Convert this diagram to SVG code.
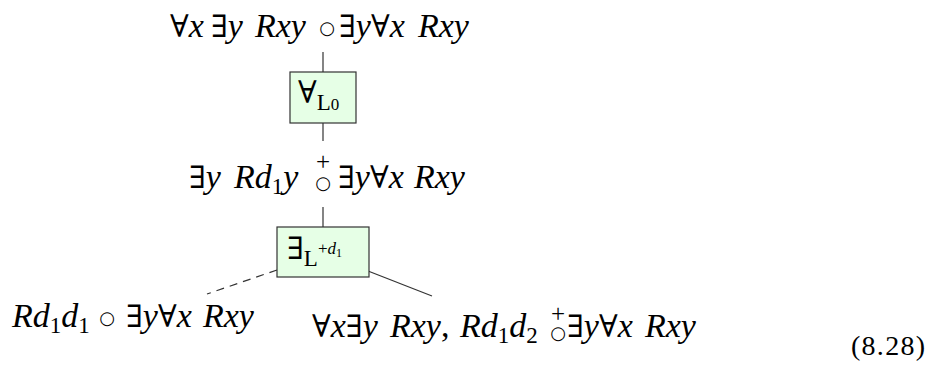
<svg xmlns="http://www.w3.org/2000/svg" width="934" height="366" viewBox="0 0 934 366">
<style>
.t{font-family:"Liberation Serif","DejaVu Serif",serif;font-size:34px;fill:#000}
.i{font-style:italic}
.q{font-size:31px}
.s{font-size:23px;font-style:normal}
.ss{font-size:17px}
.c{font-family:"DejaVu Sans",sans-serif;font-size:18px}
.p{font-family:"Liberation Serif",serif;font-size:25px}
.box{fill:#e6ffe6;stroke:#333;stroke-width:1.2}
.ln{stroke:#333;stroke-width:1.2;fill:none}
.dash{stroke-dasharray:8 6}
</style>
<g id="connectors">
<line class="ln" x1="323" y1="52" x2="323" y2="72"/>
<line class="ln" x1="323" y1="123" x2="323" y2="141"/>
<line class="ln" x1="323" y1="207" x2="323" y2="227"/>
<line class="ln dash" x1="277" y1="270" x2="207" y2="294"/>
<line class="ln" x1="368" y1="271" x2="432" y2="296"/>
</g>
<g id="n0">
<text class="t" y="37"><tspan x="170"><tspan class="q">∀</tspan><tspan class="i">x</tspan></tspan><tspan x="211"><tspan class="q">∃</tspan><tspan class="i">y</tspan></tspan><tspan class="i" x="255">Rxy</tspan></text>
<text class="c" x="327" y="34" text-anchor="middle">○</text>
<text class="t" y="37"><tspan x="339"><tspan class="q">∃</tspan><tspan class="i">y</tspan><tspan class="q">∀</tspan><tspan class="i">x</tspan></tspan><tspan class="i" x="418">Rxy</tspan></text>
</g>
<g id="n1">
<rect class="box" x="290" y="72" width="66" height="51"/>
<text class="t" x="298" y="103"><tspan class="q">∀</tspan><tspan class="s" dy="7">L</tspan><tspan class="ss" dy="0">0</tspan></text>
</g>
<g id="n2">
<text class="t" y="188"><tspan x="189"><tspan class="q">∃</tspan><tspan class="i">y</tspan></tspan><tspan class="i" x="234">Rd</tspan><tspan class="s" dy="6">1</tspan><tspan class="i" dy="-6">y</tspan></text>
<text text-anchor="middle"><tspan class="p" x="323" y="170">+</tspan><tspan class="c" x="323" y="189">○</tspan></text>
<text class="t" y="188"><tspan x="338"><tspan class="q">∃</tspan><tspan class="i">y</tspan><tspan class="q">∀</tspan><tspan class="i">x</tspan></tspan><tspan class="i" x="414">Rxy</tspan></text>
</g>
<g id="n3">
<rect class="box" x="277" y="227" width="92" height="50"/>
<text class="t" x="287" y="259"><tspan class="q">∃</tspan><tspan class="s" dy="7">L</tspan><tspan class="ss" dy="-12">+</tspan><tspan class="ss i">d</tspan><tspan style="font-size:12px" dy="3">1</tspan></text>
</g>
<g id="n4">
<text class="t" y="327"><tspan class="i" x="12">Rd</tspan><tspan class="s" dy="6">1</tspan><tspan class="i" dy="-6">d</tspan><tspan class="s" dy="6">1</tspan></text>
<text class="c" x="107" y="324" text-anchor="middle">○</text>
<text class="t" y="327"><tspan x="126"><tspan class="q">∃</tspan><tspan class="i">y</tspan><tspan class="q">∀</tspan><tspan class="i">x</tspan></tspan><tspan class="i" x="203">Rxy</tspan></text>
</g>
<g id="n5">
<text class="t" y="337"><tspan x="312"><tspan class="q">∀</tspan><tspan class="i">x</tspan><tspan class="q">∃</tspan><tspan class="i">y</tspan></tspan><tspan class="i" x="390">Rxy</tspan>,<tspan class="i" x="460">Rd</tspan><tspan class="s" dy="6">1</tspan><tspan class="i" dy="-6">d</tspan><tspan class="s" dy="6">2</tspan></text>
<text text-anchor="middle"><tspan class="p" x="558" y="322">+</tspan><tspan class="c" x="558" y="339">○</tspan></text>
<text class="t" y="337"><tspan x="567"><tspan class="q">∃</tspan><tspan class="i">y</tspan><tspan class="q">∀</tspan><tspan class="i">x</tspan></tspan><tspan class="i" x="645">Rxy</tspan></text>
</g>
<text class="t" x="851" y="355" style="font-size:28px" textLength="74" lengthAdjust="spacing">(8.28)</text>
</svg>
